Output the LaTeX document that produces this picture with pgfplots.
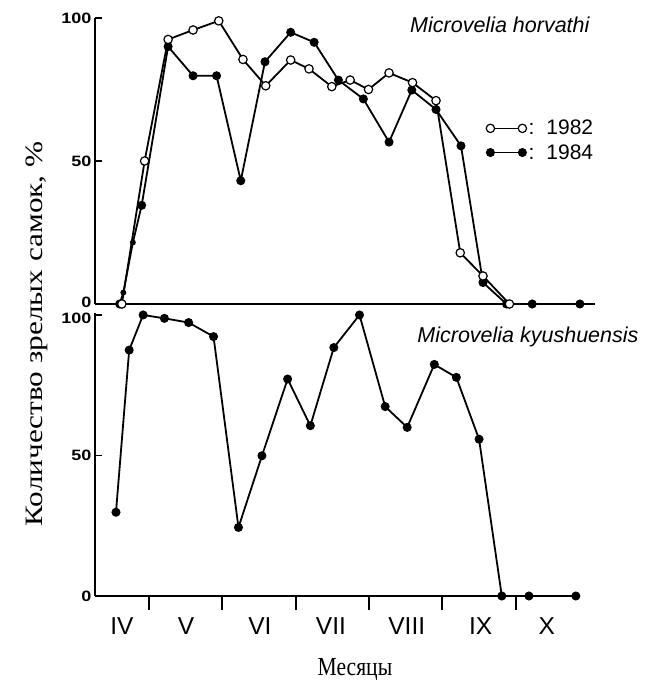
\documentclass[border=0pt]{standalone}
\usepackage{fontspec}
\setmainfont{Liberation Serif}
\newfontfamily\arial{Liberation Sans}
\usepackage{graphicx}
\usepackage{pgfplots}
\pgfplotsset{compat=1.18}
\newcommand\wide[1]{\scalebox{1.2}[1]{#1}}

\pgfplotsset{
  panel/.style={
    scale only axis, clip=false,
    xmin=0.264,
    axis x line=bottom, axis y line=left,
    axis line style={line width=1.8pt,-},
    tick align=inside, major tick length=7pt,
    tick style={line width=1.8pt, black},
    ytick={0,50,100},
    y tick label style={font=\arial\bfseries\fontsize{15}{15}\selectfont},
    every axis plot/.append style={line width=1.8pt, black},
  },
  filled/.style={mark=*, mark size=4pt, mark options={solid, fill=black, line width=1pt}},
  open/.style={mark=*, mark size=4.2pt, mark options={solid, fill=white, line width=1.2pt}},
}

\begin{document}
\begin{tikzpicture}[x=1pt,y=1pt]
\useasboundingbox (0,0) rectangle (645,680);

% ---------- top panel: Microvelia horvathi ----------
\begin{axis}[panel,
  at={(95pt,376pt)}, anchor=south west,
  width=500pt, height=286pt,
  xmax=7.076, ymin=0, ymax=100,
  xtick=\empty,
  yticklabels={\raisebox{-3.5pt}[0pt][0pt]{\wide{0}},\wide{50},\wide{100}},
  reverse legend,
  legend style={at={(0.782,0.65)}, anchor=north west, draw=none, fill=none,
    font=\arial\fontsize{21}{25}\selectfont, row sep=4pt, inner sep=0pt},
  legend cell align=left,
  legend image code/.code={\draw[#1, line width=1.5pt, mark repeat=1, mark phase=1, mark indices={1,2}] plot coordinates {(0pt,0pt) (32pt,0pt)};},
]
% 1984
\addplot[filled, mark indices={1,4,5,6,7,8,9,10,11,12,13,14,15,16,17,18,19,20,21}] coordinates {
 (0.60,0) (0.65,4) (0.78,21.5) (0.90,34.5) (1.26,90) (1.60,79.8) (1.92,79.8)
 (2.25,43.1) (2.58,84.7) (2.93,95) (3.25,91.5) (3.58,78.3) (3.92,71.7)
 (4.27,56.6) (4.58,74.8) (4.91,68) (5.25,55.3) (5.55,7.5) (5.87,0) (6.22,0) (6.87,0)
};
\addlegendentry{:\hspace{12pt}1984}
\addplot[only marks, mark=*, mark size=2pt, forget plot] coordinates {(0.65,4) (0.78,21.5)};
% 1982
\addplot[open] coordinates {
 (0.63,0) (0.94,50) (1.26,92.5) (1.60,95.8) (1.95,99) (2.28,85.5) (2.59,76.3)
 (2.93,85.3) (3.18,82.2) (3.49,76) (3.74,78.3) (3.99,75) (4.27,80.8) (4.59,77.4)
 (4.91,71.1) (5.24,17.9) (5.55,9.8) (5.91,0)
};
\addlegendentry{:\hspace{12pt}1982}
\node[anchor=base east, font=\arial\itshape\fontsize{21.5}{21.5}\selectfont]
  at (rel axis cs:0.996,0.9476) {Microvelia horvathi};
\end{axis}

% ---------- bottom panel: Microvelia kyushuensis ----------
\begin{axis}[panel,
  at={(95pt,84pt)}, anchor=south west,
  width=483pt, height=283pt,
  xmax=6.849, ymin=0, ymax=100.7,
  yticklabels={\wide{0},\wide{50},\raisebox{-8.5pt}[0pt][0pt]{\wide{100}}},
  xtick={0.632,1.504,2.512,3.48,4.514,5.523,6.423},
  xticklabels={IV,V,VI,VII,VIII,IX,X},
  x tick style={draw=none},
  x tick label style={font=\arial\fontsize{24.5}{24.5}\selectfont, anchor=base, yshift=-39pt},
]
\addplot[filled] coordinates {
 (0.55,29.8) (0.73,87.5) (0.92,100) (1.21,98.8) (1.54,97.3) (1.88,92.3)
 (2.22,24.4) (2.54,49.9) (2.89,77.2) (3.20,60.6) (3.52,88.4) (3.87,100)
 (4.22,67.4) (4.52,60) (4.89,82.4) (5.19,77.8) (5.50,55.8) (5.81,0) (6.18,0) (6.82,0)
};
\node[anchor=base east, font=\arial\itshape\fontsize{21.5}{21.5}\selectfont]
  at (rel axis cs:1.1325,0.894) {Microvelia kyushuensis};
\end{axis}

% month boundary ticks
\begin{axis}[
  scale only axis, at={(95pt,84pt)}, anchor=south west,
  width=483pt, height=283pt,
  xmin=0.264, xmax=6.849, ymin=0, ymax=100.7,
  hide y axis, axis x line=bottom, axis line style={draw=none},
  xtick={1,2,3,4,5,6}, xticklabels={},
  tick align=outside, major tick length=14pt,
  tick style={line width=1.8pt, black},
]
\end{axis}

\node[rotate=90, anchor=base, font=\fontsize{25}{25}\selectfont] at (42,346) {\scalebox{1.25}[1]{Количество зрелых самок, \%}};
\node[anchor=base, font=\fontsize{26}{26}\selectfont] at (355,5) {\scalebox{0.83}[1]{Месяцы}};
\end{tikzpicture}
\end{document}
